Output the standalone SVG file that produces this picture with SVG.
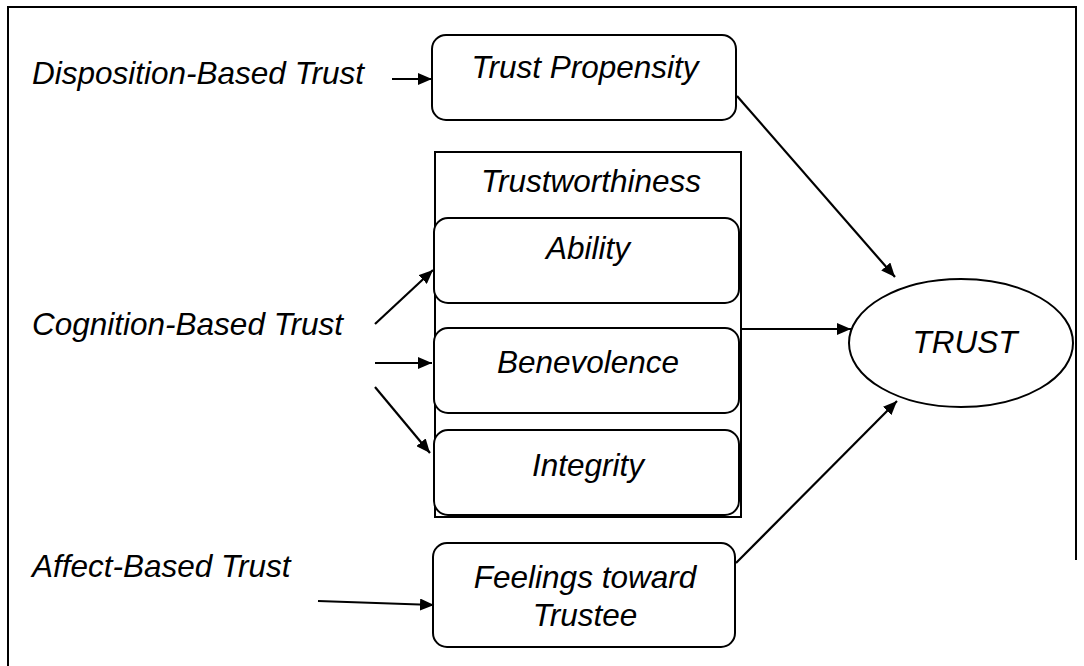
<svg xmlns="http://www.w3.org/2000/svg" width="1084" height="666" viewBox="0 0 1084 666">
  <defs>
    <marker id="arrow" viewBox="0 0 14 12" refX="14" refY="6" markerWidth="14" markerHeight="12" markerUnits="userSpaceOnUse" orient="auto">
      <path d="M0,0 L14,6 L0,12 z" fill="#000"/>
    </marker>
  </defs>
  <style>
    text { font-family: "Liberation Sans", Arial, sans-serif; font-style: italic; font-size: 31.5px; fill: #000; }
    .mid { text-anchor: middle; }
    .box { fill: #fff; stroke: #000; stroke-width: 2; }
    .frame { fill: none; stroke: #000; stroke-width: 2; }
    .conn { stroke: #000; stroke-width: 2.2; fill: none; marker-end: url(#arrow); }
  </style>
  <rect width="1084" height="666" fill="#fff"/>

  <!-- outer frame -->
  <path class="frame" d="M8,666 L8,7 L1076,7 L1076,560"/>

  <!-- source labels -->
  <g id="disposition-label"><text x="32" y="84">Disposition-Based Trust</text></g>
  <g id="cognition-label"><text x="32" y="335">Cognition-Based Trust</text></g>
  <g id="affect-label"><text x="32" y="577">Affect-Based Trust</text></g>

  <g id="trust-propensity">
    <rect class="box" x="432" y="35" width="304" height="85" rx="14"/>
    <text class="mid" x="585" y="78">Trust Propensity</text>
  </g>

  <g id="trustworthiness">
    <rect class="box" x="435" y="152" width="306" height="365" stroke-width="1.6"/>
    <text class="mid" x="591" y="192">Trustworthiness</text>
  </g>

  <g id="ability">
    <rect class="box" x="434" y="218" width="305" height="85" rx="14"/>
    <text class="mid" x="588" y="259">Ability</text>
  </g>

  <g id="benevolence">
    <rect class="box" x="434" y="328" width="305" height="85" rx="14"/>
    <text class="mid" x="588" y="373">Benevolence</text>
  </g>

  <g id="integrity">
    <rect class="box" x="434" y="430" width="305" height="85" rx="14"/>
    <text class="mid" x="588" y="476">Integrity</text>
  </g>

  <g id="feelings">
    <rect class="box" x="433" y="543" width="302" height="104" rx="14"/>
    <text class="mid" x="585" y="588">Feelings toward</text>
    <text class="mid" x="585" y="626">Trustee</text>
  </g>

  <g id="trust">
    <ellipse class="box" cx="961" cy="343" rx="112" ry="64"/>
    <text class="mid" x="965" y="353">TRUST</text>
  </g>

  <g id="connectors">
    <line class="conn" x1="392" y1="79" x2="432" y2="79"/>
    <line class="conn" x1="737" y1="96" x2="895" y2="277"/>
    <line class="conn" x1="375" y1="324" x2="433" y2="270"/>
    <line class="conn" x1="375" y1="363" x2="432" y2="363"/>
    <line class="conn" x1="375" y1="387" x2="430" y2="453"/>
    <line class="conn" x1="742" y1="329" x2="851" y2="329"/>
    <line class="conn" x1="736" y1="563" x2="897" y2="401"/>
    <line class="conn" x1="318" y1="601" x2="434" y2="605"/>
  </g>
</svg>
